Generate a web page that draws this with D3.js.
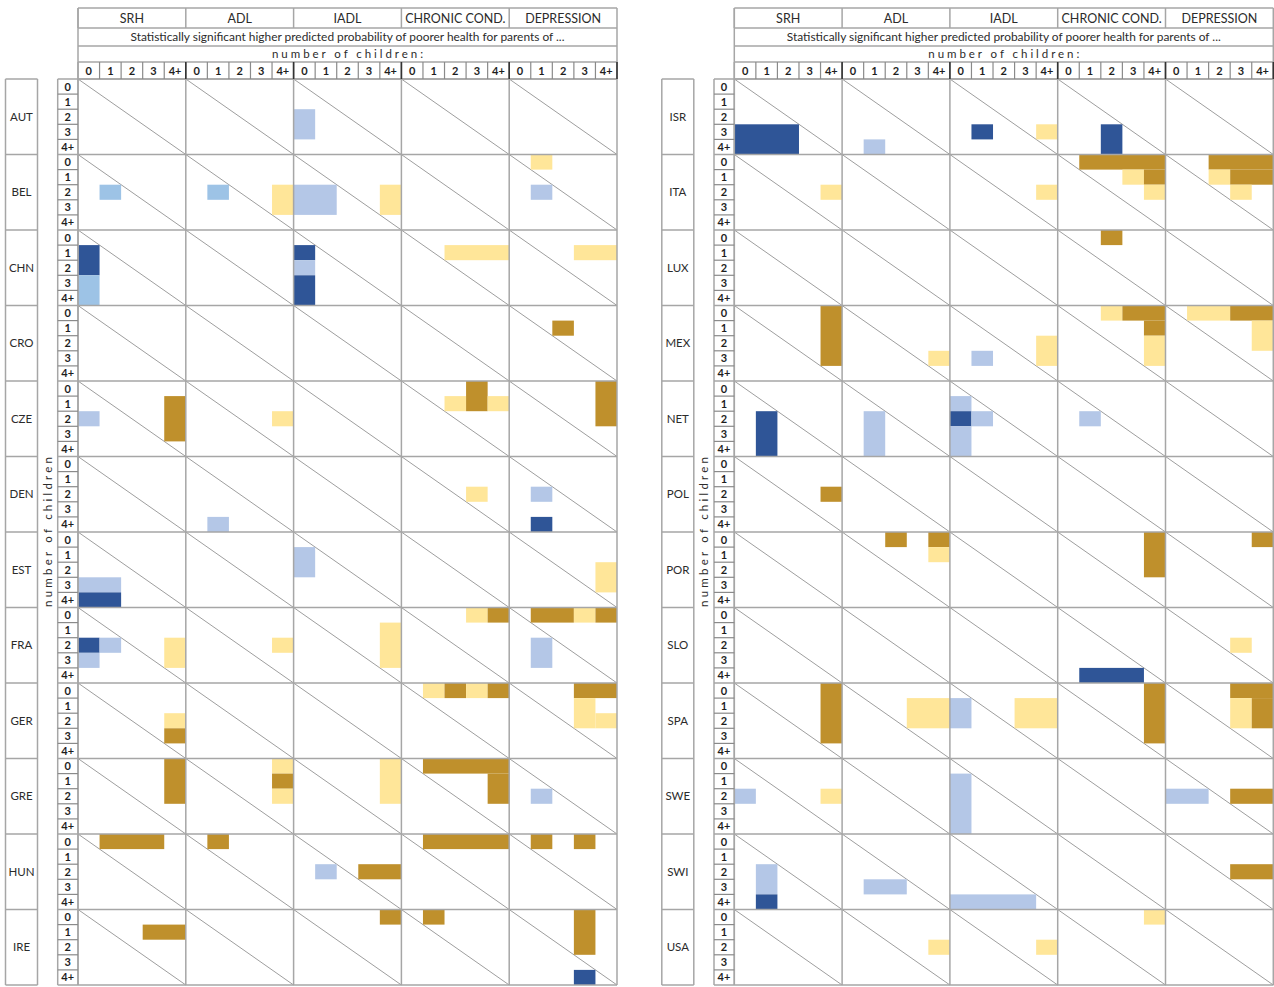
<!DOCTYPE html>
<html>
<head>
<meta charset="utf-8">
<script src="https://cdn.jsdelivr.net/npm/d3@7"></script>
<style>
  body { margin: 0; background: #fff; }
  text { font-family: Lato, "Open Sans", sans-serif; fill: #2b2b2b; }
</style>
</head>
<body>
<div id="chart"></div>
<script>
// data
const outcomes = ["SRH", "ADL", "IADL", "CHRONIC COND.", "DEPRESSION"];
const childLabels = ["0", "1", "2", "3", "4+"];
const countriesLeft = ["AUT", "BEL", "CHN", "CRO", "CZE", "DEN", "EST", "FRA", "GER", "GRE", "HUN", "IRE"];
const countriesRight = ["ISR", "ITA", "LUX", "MEX", "NET", "POL", "POR", "SLO", "SPA", "SWE", "SWI", "USA"];
const subtitle = "Statistically significant higher predicted probability of poorer health for parents of ...";
const axisTitle = "number of children";

// level codes: D dark blue, M mid blue, L light blue, Y light yellow, G gold
const levelColors = { D: "#2f5597", M: "#9dc3e6", L: "#b4c7e7", Y: "#ffe699", G: "#bf902c" };

// [country, outcome, colFrom, colTo, rowFrom, rowTo, level]  (col = number of children column, row = sub-row)
const cells = [
  ["AUT", "IADL", 0, 0, 2, 3, "L"],
  ["BEL", "SRH", 1, 1, 2, 2, "M"],
  ["BEL", "ADL", 1, 1, 2, 2, "M"],
  ["BEL", "ADL", 4, 4, 2, 3, "Y"],
  ["BEL", "IADL", 0, 1, 2, 3, "L"],
  ["BEL", "IADL", 4, 4, 2, 3, "Y"],
  ["BEL", "DEPRESSION", 1, 1, 0, 0, "Y"],
  ["BEL", "DEPRESSION", 1, 1, 2, 2, "L"],
  ["CHN", "SRH", 0, 0, 1, 2, "D"],
  ["CHN", "SRH", 0, 0, 3, 4, "M"],
  ["CHN", "IADL", 0, 0, 1, 1, "D"],
  ["CHN", "IADL", 0, 0, 2, 2, "L"],
  ["CHN", "IADL", 0, 0, 3, 4, "D"],
  ["CHN", "CHRONIC COND.", 2, 4, 1, 1, "Y"],
  ["CHN", "DEPRESSION", 3, 4, 1, 1, "Y"],
  ["CRO", "DEPRESSION", 2, 2, 1, 1, "G"],
  ["CZE", "SRH", 0, 0, 2, 2, "L"],
  ["CZE", "SRH", 4, 4, 1, 3, "G"],
  ["CZE", "ADL", 4, 4, 2, 2, "Y"],
  ["CZE", "CHRONIC COND.", 2, 2, 1, 1, "Y"],
  ["CZE", "CHRONIC COND.", 3, 3, 0, 1, "G"],
  ["CZE", "CHRONIC COND.", 4, 4, 1, 1, "Y"],
  ["CZE", "DEPRESSION", 4, 4, 0, 2, "G"],
  ["DEN", "ADL", 1, 1, 4, 4, "L"],
  ["DEN", "CHRONIC COND.", 3, 3, 2, 2, "Y"],
  ["DEN", "DEPRESSION", 1, 1, 2, 2, "L"],
  ["DEN", "DEPRESSION", 1, 1, 4, 4, "D"],
  ["EST", "SRH", 0, 1, 3, 3, "L"],
  ["EST", "SRH", 0, 1, 4, 4, "D"],
  ["EST", "IADL", 0, 0, 1, 2, "L"],
  ["EST", "DEPRESSION", 4, 4, 2, 3, "Y"],
  ["FRA", "SRH", 0, 0, 2, 2, "D"],
  ["FRA", "SRH", 1, 1, 2, 2, "L"],
  ["FRA", "SRH", 0, 0, 3, 3, "L"],
  ["FRA", "SRH", 4, 4, 2, 3, "Y"],
  ["FRA", "ADL", 4, 4, 2, 2, "Y"],
  ["FRA", "IADL", 4, 4, 1, 3, "Y"],
  ["FRA", "CHRONIC COND.", 3, 3, 0, 0, "Y"],
  ["FRA", "CHRONIC COND.", 4, 4, 0, 0, "G"],
  ["FRA", "DEPRESSION", 1, 2, 0, 0, "G"],
  ["FRA", "DEPRESSION", 3, 3, 0, 0, "Y"],
  ["FRA", "DEPRESSION", 4, 4, 0, 0, "G"],
  ["FRA", "DEPRESSION", 1, 1, 2, 3, "L"],
  ["GER", "SRH", 4, 4, 2, 2, "Y"],
  ["GER", "SRH", 4, 4, 3, 3, "G"],
  ["GER", "CHRONIC COND.", 1, 1, 0, 0, "Y"],
  ["GER", "CHRONIC COND.", 2, 2, 0, 0, "G"],
  ["GER", "CHRONIC COND.", 3, 3, 0, 0, "Y"],
  ["GER", "CHRONIC COND.", 4, 4, 0, 0, "G"],
  ["GER", "DEPRESSION", 3, 4, 0, 0, "G"],
  ["GER", "DEPRESSION", 3, 3, 1, 2, "Y"],
  ["GER", "DEPRESSION", 4, 4, 2, 2, "Y"],
  ["GRE", "SRH", 4, 4, 0, 2, "G"],
  ["GRE", "ADL", 4, 4, 0, 0, "Y"],
  ["GRE", "ADL", 4, 4, 1, 1, "G"],
  ["GRE", "ADL", 4, 4, 2, 2, "Y"],
  ["GRE", "IADL", 4, 4, 0, 2, "Y"],
  ["GRE", "CHRONIC COND.", 1, 4, 0, 0, "G"],
  ["GRE", "CHRONIC COND.", 4, 4, 1, 2, "G"],
  ["GRE", "DEPRESSION", 1, 1, 2, 2, "L"],
  ["HUN", "SRH", 1, 3, 0, 0, "G"],
  ["HUN", "ADL", 1, 1, 0, 0, "G"],
  ["HUN", "IADL", 1, 1, 2, 2, "L"],
  ["HUN", "IADL", 3, 4, 2, 2, "G"],
  ["HUN", "CHRONIC COND.", 1, 4, 0, 0, "G"],
  ["HUN", "DEPRESSION", 1, 1, 0, 0, "G"],
  ["HUN", "DEPRESSION", 3, 3, 0, 0, "G"],
  ["IRE", "SRH", 3, 4, 1, 1, "G"],
  ["IRE", "IADL", 4, 4, 0, 0, "G"],
  ["IRE", "CHRONIC COND.", 1, 1, 0, 0, "G"],
  ["IRE", "DEPRESSION", 3, 3, 0, 2, "G"],
  ["IRE", "DEPRESSION", 3, 3, 4, 4, "D"],

  ["ISR", "SRH", 0, 2, 3, 4, "D"],
  ["ISR", "ADL", 1, 1, 4, 4, "L"],
  ["ISR", "IADL", 1, 1, 3, 3, "D"],
  ["ISR", "IADL", 4, 4, 3, 3, "Y"],
  ["ISR", "CHRONIC COND.", 2, 2, 3, 4, "D"],
  ["ITA", "SRH", 4, 4, 2, 2, "Y"],
  ["ITA", "IADL", 4, 4, 2, 2, "Y"],
  ["ITA", "CHRONIC COND.", 1, 4, 0, 0, "G"],
  ["ITA", "CHRONIC COND.", 3, 3, 1, 1, "Y"],
  ["ITA", "CHRONIC COND.", 4, 4, 1, 1, "G"],
  ["ITA", "CHRONIC COND.", 4, 4, 2, 2, "Y"],
  ["ITA", "DEPRESSION", 2, 4, 0, 0, "G"],
  ["ITA", "DEPRESSION", 2, 2, 1, 1, "Y"],
  ["ITA", "DEPRESSION", 3, 4, 1, 1, "G"],
  ["ITA", "DEPRESSION", 3, 3, 2, 2, "Y"],
  ["LUX", "CHRONIC COND.", 2, 2, 0, 0, "G"],
  ["MEX", "SRH", 4, 4, 0, 3, "G"],
  ["MEX", "ADL", 4, 4, 3, 3, "Y"],
  ["MEX", "IADL", 1, 1, 3, 3, "L"],
  ["MEX", "IADL", 4, 4, 2, 3, "Y"],
  ["MEX", "CHRONIC COND.", 2, 2, 0, 0, "Y"],
  ["MEX", "CHRONIC COND.", 3, 4, 0, 0, "G"],
  ["MEX", "CHRONIC COND.", 4, 4, 1, 1, "G"],
  ["MEX", "CHRONIC COND.", 4, 4, 2, 3, "Y"],
  ["MEX", "DEPRESSION", 1, 2, 0, 0, "Y"],
  ["MEX", "DEPRESSION", 3, 4, 0, 0, "G"],
  ["MEX", "DEPRESSION", 4, 4, 1, 2, "Y"],
  ["NET", "SRH", 1, 1, 2, 4, "D"],
  ["NET", "ADL", 1, 1, 2, 4, "L"],
  ["NET", "IADL", 0, 0, 1, 1, "L"],
  ["NET", "IADL", 0, 0, 2, 2, "D"],
  ["NET", "IADL", 1, 1, 2, 2, "L"],
  ["NET", "IADL", 0, 0, 3, 4, "L"],
  ["NET", "CHRONIC COND.", 1, 1, 2, 2, "L"],
  ["POL", "SRH", 4, 4, 2, 2, "G"],
  ["POR", "ADL", 2, 2, 0, 0, "G"],
  ["POR", "ADL", 4, 4, 0, 0, "G"],
  ["POR", "ADL", 4, 4, 1, 1, "Y"],
  ["POR", "CHRONIC COND.", 4, 4, 0, 2, "G"],
  ["POR", "DEPRESSION", 4, 4, 0, 0, "G"],
  ["SLO", "CHRONIC COND.", 1, 3, 4, 4, "D"],
  ["SLO", "DEPRESSION", 3, 3, 2, 2, "Y"],
  ["SPA", "SRH", 4, 4, 0, 3, "G"],
  ["SPA", "ADL", 3, 4, 1, 2, "Y"],
  ["SPA", "IADL", 0, 0, 1, 2, "L"],
  ["SPA", "IADL", 3, 4, 1, 2, "Y"],
  ["SPA", "CHRONIC COND.", 4, 4, 0, 3, "G"],
  ["SPA", "DEPRESSION", 3, 4, 0, 0, "G"],
  ["SPA", "DEPRESSION", 3, 3, 1, 2, "Y"],
  ["SPA", "DEPRESSION", 4, 4, 1, 2, "G"],
  ["SWE", "SRH", 0, 0, 2, 2, "L"],
  ["SWE", "SRH", 4, 4, 2, 2, "Y"],
  ["SWE", "IADL", 0, 0, 1, 4, "L"],
  ["SWE", "DEPRESSION", 0, 1, 2, 2, "L"],
  ["SWE", "DEPRESSION", 3, 4, 2, 2, "G"],
  ["SWI", "SRH", 1, 1, 2, 3, "L"],
  ["SWI", "SRH", 1, 1, 4, 4, "D"],
  ["SWI", "ADL", 1, 2, 3, 3, "L"],
  ["SWI", "IADL", 0, 3, 4, 4, "L"],
  ["SWI", "DEPRESSION", 3, 4, 2, 2, "G"],
  ["USA", "ADL", 4, 4, 2, 2, "Y"],
  ["USA", "IADL", 4, 4, 2, 2, "Y"],
  ["USA", "CHRONIC COND.", 4, 4, 0, 0, "Y"]
];

const width = 1274, height = 987;
const groupW = 107.8;
const headerY = [8, 28, 46, 62, 79];
const bodyTop = 79, bodyBottom = 985;
const gridColor = "#a6a6a6";

const svg = d3.select("#chart").append("svg")
  .attr("width", width).attr("height", height);

function vline(g, x, y1, y2, color, w) {
  g.append("line").attr("x1", x).attr("x2", x).attr("y1", y1).attr("y2", y2)
    .attr("stroke", color || gridColor).attr("stroke-width", w || 1.5);
}
function hline(g, y, x1, x2, color, w) {
  g.append("line").attr("x1", x1).attr("x2", x2).attr("y1", y).attr("y2", y)
    .attr("stroke", color || gridColor).attr("stroke-width", w || 1.5);
}

function drawPanel(countries, x0) {
  const x1 = x0 + groupW * outcomes.length;
  const g = svg.append("g");

  const outerX = d3.scaleBand().domain(outcomes).range([x0, x1]);
  const innerX = d3.scaleBand().domain(childLabels).range([0, outerX.bandwidth()]);
  const outerY = d3.scaleBand().domain(countries).range([bodyTop, bodyBottom]);
  const innerY = d3.scaleBand().domain(childLabels).range([0, outerY.bandwidth()]);

  const colCountry = x0 - 72.5, colVert = x0 - 40.5, colRows = x0 - 20.3;

  // diagonals in each block
  countries.forEach(c => {
    outcomes.forEach(o => {
      g.append("line")
        .attr("x1", outerX(o)).attr("y1", outerY(c))
        .attr("x2", outerX(o) + outerX.bandwidth()).attr("y2", outerY(c) + outerY.bandwidth())
        .attr("stroke", "#9e9e9e").attr("stroke-width", 1);
    });
  });

  // coloured cells
  const mine = cells.filter(d => countries.includes(d[0]));
  g.selectAll("rect.cell").data(mine).enter().append("rect")
    .attr("class", "cell")
    .attr("x", d => outerX(d[1]) + innerX(childLabels[d[2]]))
    .attr("y", d => outerY(d[0]) + innerY(childLabels[d[4]]))
    .attr("width", d => innerX(childLabels[d[3]]) + innerX.bandwidth() - innerX(childLabels[d[2]]))
    .attr("height", d => innerY(childLabels[d[5]]) + innerY.bandwidth() - innerY(childLabels[d[4]]))
    .attr("fill", d => levelColors[d[6]]);

  // block borders (group dividers skip the two spanning header rows)
  outcomes.forEach(o => {
    vline(g, outerX(o), headerY[0], headerY[1]);
    vline(g, outerX(o), headerY[3], bodyBottom);
  });
  vline(g, x0, headerY[0], bodyBottom);
  vline(g, x1, headerY[0], bodyBottom);

  countries.concat([null]).forEach(c => {
    const y = c ? outerY(c) : bodyBottom;
    hline(g, y, colRows, x1);
    hline(g, y, colCountry, colVert);
  });
  [colCountry, colVert, colRows].forEach(x => vline(g, x, bodyTop, bodyBottom));

  // header rows
  headerY.forEach(y => hline(g, y, x0, x1));

  g.selectAll("text.outcome").data(outcomes).enter().append("text")
    .attr("x", d => outerX(d) + outerX.bandwidth() / 2)
    .attr("y", (headerY[0] + headerY[1]) / 2 + 4.5)
    .attr("text-anchor", "middle")
    .style("font-size", "12.5px")
    .text(d => d);

  g.append("text")
    .attr("x", (x0 + x1) / 2).attr("y", (headerY[1] + headerY[2]) / 2 + 4)
    .attr("text-anchor", "middle")
    .attr("textLength", 434).attr("lengthAdjust", "spacingAndGlyphs")
    .style("font-size", "11.5px")
    .text(subtitle);

  g.append("text")
    .attr("x", (x0 + x1) / 2).attr("y", (headerY[2] + headerY[3]) / 2 + 4)
    .attr("text-anchor", "middle")
    .attr("textLength", 151).attr("lengthAdjust", "spacing")
    .style("font-size", "11.5px")
    .text(axisTitle + ":");

  // tick row: 0 1 2 3 4+ under every outcome
  outcomes.forEach(o => {
    childLabels.forEach((lab, i) => {
      const x = outerX(o) + innerX(lab);
      if (i > 0) vline(g, x, headerY[3], headerY[4], "#8a8a8a", 1.2);
      g.append("text")
        .attr("x", x + innerX.bandwidth() / 2).attr("y", headerY[3] + 12.5)
        .attr("text-anchor", "middle")
        .style("font-size", "11px").style("font-weight", "bold").style("fill", "#1e1e1e")
        .text(lab);
    });
  });
  outcomes.slice(1).forEach(o => vline(g, outerX(o), headerY[3], headerY[4], "#333", 1.6));
  vline(g, x1, headerY[3], headerY[4], "#333", 1.6);

  // sub-row labels
  countries.forEach(c => {
    childLabels.forEach((lab, i) => {
      const y = outerY(c) + innerY(lab);
      if (i > 0) hline(g, y, colRows, x0, "#8a8a8a", 1.2);
      g.append("text")
        .attr("x", colRows + 10).attr("y", y + innerY.bandwidth() / 2 + 4)
        .attr("text-anchor", "middle")
        .style("font-size", "11px").style("font-weight", "bold").style("fill", "#1e1e1e")
        .text(lab);
    });
    g.append("text")
      .attr("x", (colCountry + colVert) / 2).attr("y", outerY(c) + outerY.bandwidth() / 2 + 4)
      .attr("text-anchor", "middle")
      .style("font-size", "11.5px")
      .text(c);
  });

  // vertical axis title
  const vy = bodyTop + (bodyBottom - bodyTop) / 2;
  g.append("text")
    .attr("transform", `translate(${(colVert + colRows) / 2 + 4},${vy}) rotate(-90)`)
    .attr("text-anchor", "middle")
    .attr("textLength", 150).attr("lengthAdjust", "spacing")
    .style("font-size", "11.5px")
    .text(axisTitle);
}

drawPanel(countriesLeft, 78);
drawPanel(countriesRight, 734.3);
</script>
</body>
</html>
